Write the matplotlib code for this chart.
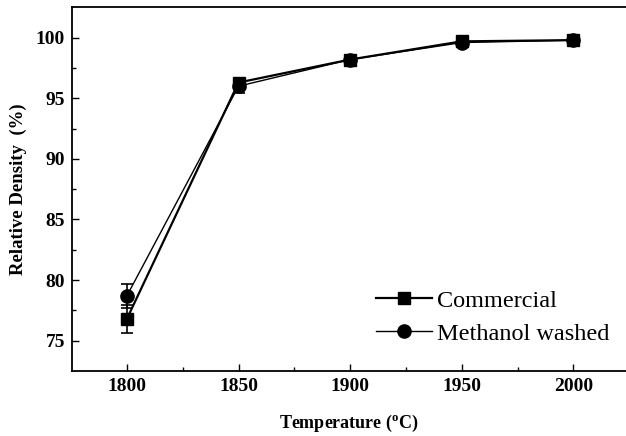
import matplotlib
matplotlib.use('Agg')
import matplotlib.pyplot as plt

# 字体设置
matplotlib.rcParams['font.family'] = ['Liberation Serif', 'DejaVu Serif']
matplotlib.rcParams['mathtext.fontset'] = 'custom'
matplotlib.rcParams['mathtext.rm'] = 'Liberation Serif:bold'
matplotlib.rcParams['mathtext.bf'] = 'Liberation Serif:bold'

temperature = [1800, 1850, 1900, 1950, 2000]
commercial = [76.8, 96.3, 98.2, 99.7, 99.8]
commercial_err = [1.15, 0.3, 0.2, 0.15, 0.1]
methanol = [78.7, 96.0, 98.2, 99.6, 99.8]
methanol_err = [1.0, 0.6, 0.2, 0.15, 0.1]

fig = plt.figure(figsize=(6.26, 4.36), dpi=100)
ax = fig.add_axes([72 / 626, 1 - 370.7 / 436, 1 - 72 / 626, (370.7 - 6.7) / 436])

c1 = ax.errorbar(temperature, commercial, yerr=commercial_err, color='black',
                 marker='s', markersize=8.5, linewidth=1.6, capsize=4.5,
                 elinewidth=1.2, capthick=1.2)
c2 = ax.errorbar(temperature, methanol, yerr=methanol_err, color='black',
                 marker='o', markersize=9.5, linewidth=1.0, capsize=4.5,
                 elinewidth=1.2, capthick=1.2)

ax.set_xlim(1775.4, 2023.6)
ax.set_ylim(72.52, 102.56)
ax.set_xticks(temperature)
ax.set_yticks([75, 80, 85, 90, 95, 100])
ax.set_yticks([77.5, 82.5, 87.5, 92.5, 97.5], minor=True)
ax.set_xticks([1825, 1875, 1925, 1975], minor=True)
ax.tick_params(which='both', direction='in', width=1.0)
ax.tick_params(which='major', length=5, labelsize=14, pad=5)
ax.tick_params(which='minor', length=3)
for lab in ax.get_xticklabels() + ax.get_yticklabels():
    lab.set_fontweight('bold')

ax.spines['right'].set_visible(False)
for s in ['left', 'bottom', 'top']:
    ax.spines[s].set_linewidth(1.3)

ax.set_xlabel(r'Temperature ($^{\rm o}$C)', fontsize=13, fontweight='bold', labelpad=13)
ax.set_ylabel('Relative Density  (%)', fontsize=13.5, fontweight='bold', labelpad=6)

ax.legend([c1.lines[0], c2.lines[0]], ['Commercial', 'Methanol washed'],
          loc='lower right', frameon=False, fontsize=17.5, handlelength=2.3,
          handletextpad=0.2, labelspacing=0.45, borderaxespad=0.3,
          bbox_to_anchor=(1.0, 0.025))

plt.savefig('out.png', dpi=100)
